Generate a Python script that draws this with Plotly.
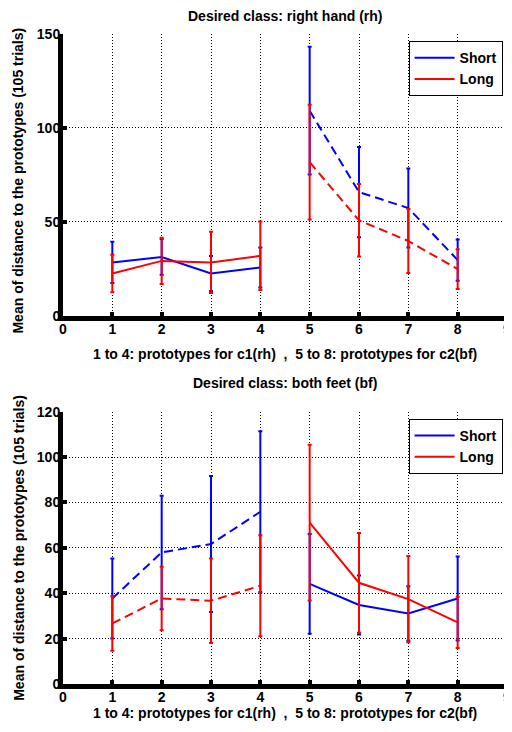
import plotly.graph_objects as go

# ---- data ----
x_c1 = [1, 2, 3, 4]
x_c2 = [5, 6, 7, 8]

# Desired class: right hand (rh)
short_mean_rh = [28.5, 31.4, 22.6, 25.8, 109.2, 65.9, 57.4, 29.7]
short_err_rh = [11.0, 9.5, 9.3, 10.6, 34.0, 24.0, 21.0, 11.0]
long_mean_rh = [22.6, 29.3, 28.5, 32.0, 81.8, 50.9, 39.9, 24.9]
long_err_rh = [10.0, 12.3, 16.3, 18.2, 30.5, 19.3, 17.0, 10.6]

# Desired class: both feet (bf)
short_mean_bf = [37.7, 58.0, 61.7, 75.9, 44.1, 34.8, 31.1, 37.7]
short_err_bf = [17.6, 25.0, 30.0, 35.5, 22.0, 13.0, 12.0, 18.5]
long_mean_bf = [26.7, 37.7, 36.7, 43.3, 71.1, 44.6, 37.4, 27.2]
long_err_bf = [12.0, 14.0, 18.6, 22.3, 34.3, 22.0, 19.0, 11.3]

x_ticks = [0, 1, 2, 3, 4, 5, 6, 7, 8, 9]
y_ticks_rh = [0, 50, 100, 150]
y_ticks_bf = [0, 20, 40, 60, 80, 100, 120]

titles = ["Desired class: right hand (rh)", "Desired class: both feet (bf)"]
x_title = "1 to 4: prototypes for c1(rh)  ,  5 to 8: prototypes for c2(bf)"
y_title = "Mean of distance to the prototypes (105 trials)"

BLUE = "#0000ff"
RED = "#ff0000"
FONT = dict(family="Arial, Liberation Sans, sans-serif", size=14, color="black", weight="bold")
DASH = "9px,5px"

fig = go.Figure()


def add_series(name, mean, err, color, xa, ya, legend, solid_first):
    segs = [(x_c1, mean[:4], err[:4]), (x_c2, mean[4:], err[4:])]
    for i, (xs, ys, es) in enumerate(segs):
        solid = (i == 0) == solid_first
        fig.add_trace(go.Scatter(
            x=xs, y=ys, mode="lines", name=name,
            line=dict(color=color, width=2, dash="solid" if solid else DASH),
            error_y=dict(type="data", array=es, visible=True, color=color,
                         thickness=2, width=2),
            xaxis=xa, yaxis=ya, legend=legend,
            showlegend=solid,
        ))


add_series("Short", short_mean_rh, short_err_rh, BLUE, "x", "y", "legend", True)
add_series("Long", long_mean_rh, long_err_rh, RED, "x", "y", "legend", True)
add_series("Short", short_mean_bf, short_err_bf, BLUE, "x2", "y2", "legend2", False)
add_series("Long", long_mean_bf, long_err_bf, RED, "x2", "y2", "legend2", False)

axis_common = dict(
    showline=True, linecolor="black", linewidth=5,
    ticks="inside", ticklen=4, tickwidth=4, tickcolor="black",
    showgrid=True, gridcolor="black", gridwidth=1, griddash="1px,2px",
    zeroline=False, tickfont=FONT, fixedrange=True, ticklabeloverflow="allow",
    automargin=False,
)
x_common = dict(axis_common, range=[0, 9], tickvals=x_ticks, domain=[0, 1],
                ticklabelstandoff=-4)
y_common = dict(axis_common, ticklabelstandoff=-5)

top_dom = [0.5662, 1.0]
bot_dom = [0.0, 0.4189]

# page body has an 8px margin, so the figure is shrunk by 8px and margins shifted
fig.update_layout(
    width=504, height=724,
    margin=dict(l=55, r=5, t=26, b=48, autoexpand=False),
    paper_bgcolor="white", plot_bgcolor="white",
    font=FONT,
    xaxis=dict(x_common, anchor="y"),
    yaxis=dict(y_common, range=[0, 150], tickvals=y_ticks_rh, anchor="x", domain=top_dom),
    xaxis2=dict(x_common, anchor="y2"),
    yaxis2=dict(y_common, range=[0, 120], tickvals=y_ticks_bf, anchor="x2", domain=bot_dom),
    legend=dict(x=0.99, y=0.989, xanchor="right", yanchor="top",
                bordercolor="black", borderwidth=1, bgcolor="white",
                font=FONT, itemwidth=40, tracegroupgap=0),
    legend2=dict(x=0.99, y=0.4077, xanchor="right", yanchor="top",
                 bordercolor="black", borderwidth=1, bgcolor="white",
                 font=FONT, itemwidth=40, tracegroupgap=0),
    showlegend=True,
)

ann = []
for i, (ty, xy, yy) in enumerate([(1.0277, 0.5077, 0.775), (0.4631, -0.0446, 0.21)]):
    ann.append(dict(text=titles[i], x=0.5, y=ty, xref="paper", yref="paper",
                    showarrow=False, xanchor="center", yanchor="middle", font=FONT))
    ann.append(dict(text=x_title, x=0.5, y=xy, xref="paper", yref="paper",
                    showarrow=False, xanchor="center", yanchor="middle", font=FONT))
    ann.append(dict(text=y_title, x=-0.1007, y=yy, xref="paper", yref="paper",
                    showarrow=False, xanchor="center", yanchor="middle",
                    textangle=-90, font=FONT))
fig.update_layout(annotations=ann)

fig.write_html("out.html")
